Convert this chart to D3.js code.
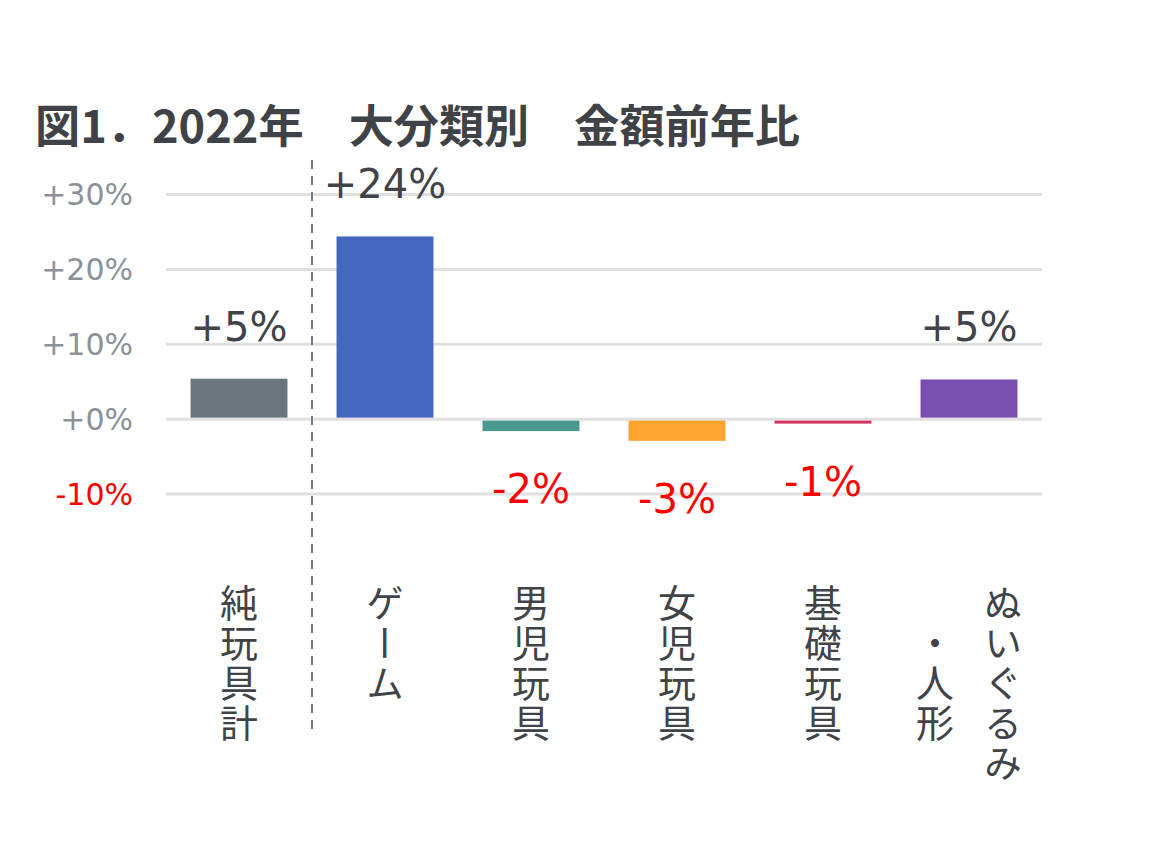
<!DOCTYPE html>
<html><head><meta charset="utf-8">
<script src="https://cdn.jsdelivr.net/npm/d3@7"></script>
<style>
html,body{margin:0;padding:0;background:#fff;}
</style></head>
<body>
<svg id="chart" width="1169" height="844"></svg>
<script>
const title = "図1．2022年　大分類別　金額前年比";
const categories = ["純玩具計","ゲーム","男児玩具","女児玩具","基礎玩具","ぬいぐるみ・人形"];
const labelLines = [["純玩具計"],["ゲーム"],["男児玩具"],["女児玩具"],["基礎玩具"],["ぬいぐるみ","・人形"]];
const values = [5.4, 24.4, -1.6, -2.9, -0.6, 5.3];
const colors = ["#6b767c","#4468c0","#4a998e","#ffa32f","#d43460","#7b4fb0"];
const tickValues = [30, 20, 10, 0, -10];
const tickLabels = ["+30%","+20%","+10%","+0%","-10%"];

const svg = d3.select("#chart");
const latin = "'DejaVu Sans', Verdana, sans-serif";
const cjk = "'Noto Sans CJK JP', sans-serif";

const x = d3.scaleBand().domain(categories).range([166, 1042]).paddingInner(0.336).paddingOuter(0.168);
const y = d3.scaleLinear().domain([-10, 30]).range([494, 194.5]);

// title
svg.append("text").attr("x", 35).attr("y", 143)
  .attr("font-family", cjk).attr("font-weight", 700).attr("font-size", 45)
  .attr("fill", "#3f4246")
  .attr("textLength", 765).attr("lengthAdjust", "spacingAndGlyphs")
  .text(title);

// gridlines
svg.append("g").selectAll("line").data(tickValues).join("line")
  .attr("x1", 166).attr("x2", 1042)
  .attr("y1", d => y(d)).attr("y2", d => y(d))
  .attr("stroke", "#e0e0e0").attr("stroke-width", 3);

// y tick labels
svg.append("g").selectAll("text").data(tickValues).join("text")
  .attr("x", 133).attr("y", d => y(d)).attr("dy", "0.36em")
  .attr("text-anchor", "end")
  .attr("font-family", latin).attr("font-size", 30)
  .attr("fill", d => d < 0 ? "#ff0000" : "#8b9198")
  .text((d, i) => tickLabels[i]);

// bars
svg.append("g").selectAll("rect").data(values).join("rect")
  .attr("x", (d, i) => x(categories[i]))
  .attr("width", x.bandwidth())
  .attr("y", d => d >= 0 ? y(d) : y(0) + 1.5)
  .attr("height", d => d >= 0 ? y(0) - 1.5 - y(d) : y(d) - y(0) - 1.5)
  .attr("fill", (d, i) => colors[i]);

// value labels
const fmt = v => (v >= 0 ? "+" : "-") + Math.round(Math.abs(v)) + "%";
svg.append("g").selectAll("text").data(values).join("text")
  .attr("x", (d, i) => x(categories[i]) + x.bandwidth() / 2)
  .attr("y", d => d >= 0 ? y(d) - 38 : y(d) + 72)
  .attr("text-anchor", "middle")
  .attr("font-family", latin).attr("font-size", 40)
  .attr("fill", d => d >= 0 ? "#404347" : "#ff0000")
  .text(d => fmt(d));

// dashed separator
const sepX = x(categories[1]) - x.step() * x.paddingInner() / 2;
svg.append("line")
  .attr("x1", sepX).attr("x2", sepX)
  .attr("y1", 160).attr("y2", 730)
  .attr("stroke", "#737b82").attr("stroke-width", 2)
  .attr("stroke-dasharray", "9,7");

// vertical category labels
const labelG = svg.append("g");
labelLines.forEach((lines, i) => {
  const cx = x(categories[i]) + x.bandwidth() / 2;
  const n = lines.length;
  const maxLen = d3.max(lines, l => l.length);
  lines.forEach((line, j) => {
    const colX = cx + ((n - 1) / 2 - j) * 68;
    const top = 584 + (maxLen - line.length) / 2 * 40;
    labelG.append("text")
      .attr("x", colX).attr("y", top)
      .attr("font-family", cjk).attr("font-size", 38)
      .attr("letter-spacing", 2)
      .attr("fill", "#404347")
      .style("writing-mode", "vertical-rl")
      .text(line);
  });
});
</script>
</body></html>
